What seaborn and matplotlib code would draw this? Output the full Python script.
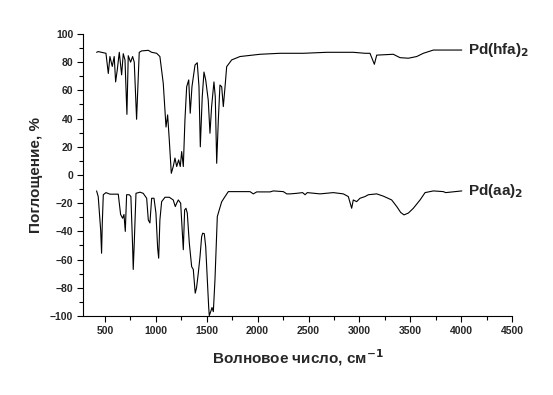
import pandas as pd
import numpy as np
import matplotlib
matplotlib.use('Agg')
import matplotlib.pyplot as plt
import seaborn as sns
from matplotlib.ticker import MultipleLocator

# ИК-спектры: Pd(hfa)2 (верхний) и Pd(aa)2 (нижний)
hfa_x = [418, 434, 510, 533, 549, 572, 591, 605, 621, 641, 664, 680, 697, 716, 729,
         752, 772, 788, 811, 837, 861, 926, 959, 1008, 1040, 1073, 1100, 1116, 1132,
         1152, 1171, 1188, 1205, 1224, 1240, 1254, 1270, 1286, 1303, 1323, 1338, 1355,
         1385, 1407, 1424, 1437, 1456, 1473, 1490, 1515, 1532, 1548, 1571, 1584, 1598,
         1614, 1630, 1647, 1663, 1680, 1696, 1745, 1827, 2023, 2220, 2449, 2679, 2940,
         3055, 3104, 3147, 3170, 3333, 3399, 3481, 3563, 3628, 3727, 4006]
hfa_y = [87, 87.5, 86.3, 72, 84, 77, 84, 66, 74.5, 87, 71, 86, 81.6, 43, 84.6,
         80, 84, 80, 39.5, 87, 88, 88.4, 87, 86.3, 84, 65, 34, 42.6, 25,
         1.2, 6, 12, 6, 10.7, 6, 16.6, 6, 39, 62.6, 67.4, 43.8, 62.6,
         78, 79.6, 62.6, 20, 55.5, 73, 67.4, 53, 29.6, 48.5, 66, 55.5, 8.3,
         39, 63.8, 62.6, 48.5, 62.6, 76.8, 81.6, 84, 85.6, 86.3, 86.3, 87, 87,
         86.3, 86.3, 78.5, 85, 85.6, 83.2, 82.8, 84, 86.3, 88.6, 88.6]

aa_x = [418, 434, 458, 467, 474, 484, 510, 549, 631, 654, 674, 687, 700, 713, 739,
        755, 772, 778, 788, 805, 844, 876, 910, 926, 942, 959, 982, 1001, 1018, 1028,
        1040, 1057, 1090, 1132, 1171, 1191, 1205, 1221, 1244, 1257, 1270, 1283, 1296,
        1309, 1329, 1352, 1368, 1387, 1400, 1417, 1434, 1450, 1460, 1476, 1490, 1506,
        1519, 1525, 1539, 1552, 1565, 1581, 1604, 1623, 1647, 1669, 1712, 1794, 1925,
        1958, 1991, 2122, 2155, 2253, 2286, 2320, 2384, 2442, 2466, 2488, 2613, 2744,
        2842, 2891, 2924, 2940, 2973, 3006, 3055, 3088, 3170, 3235, 3317, 3367, 3406,
        3438, 3481, 3530, 3596, 3645, 3727, 3825, 3848, 4006]
aa_y = [-11.3, -15.3, -39, -55.5, -34, -14, -12.5, -13.6, -13.6, -28, -30.7, -28, -40, -14, -14,
        -15.3, -50.8, -67, -48.4, -13, -12.2, -13, -16.5, -31.9, -34, -16.5, -16.5, -27, -52, -59,
        -31.9, -18.9, -15.8, -15.8, -17.7, -22.4, -20, -17.7, -20, -36.6, -53, -24.8, -23.6,
        -27, -48.4, -65, -67, -83.8, -80, -69.7, -58, -43.8, -41.3, -41.6, -50.8, -74.4,
        -93.3, -99.7, -96.9, -94, -96.9, -74.4, -29.5, -24.8, -19, -16.5, -11.8, -11.8, -11.8,
        -13.4, -12, -12, -11.3, -11.8, -13.4, -13.4, -13, -12.5, -14, -12.5, -13.4, -12.5,
        -13.4, -15.3, -23.6, -17.7, -18.9, -16.5, -15.3, -14, -13.4, -15, -17.7, -22.4, -26.6,
        -28.3, -27, -23.6, -17.7, -12.5, -11.3, -11.8, -12.5, -11.3]

x_ticks = [500, 1000, 1500, 2000, 2500, 3000, 3500, 4000, 4500]
y_ticks = [-100, -80, -60, -40, -20, 0, 20, 40, 60, 80, 100]

df = pd.concat([
    pd.DataFrame({'x': hfa_x, 'y': hfa_y, 's': 'hfa'}),
    pd.DataFrame({'x': aa_x, 'y': aa_y, 's': 'aa'}),
])

sns.set_style('ticks')
plt.rcParams['font.family'] = ['Liberation Sans Narrow', 'Liberation Sans', 'DejaVu Sans']
plt.rcParams['font.weight'] = 'bold'

fig = plt.figure(figsize=(5.53, 3.95), dpi=100)
ax = fig.add_axes([0.150, 0.200, 0.776, 0.714])
sns.lineplot(data=df, x='x', y='y', units='s', estimator=None, sort=False,
             color='black', lw=0.8, ax=ax)

ax.set_xlim(284, 4500)
ax.set_ylim(-100, 100)
ax.set_xticks(x_ticks)
ax.set_yticks(y_ticks)
ax.xaxis.set_minor_locator(MultipleLocator(250))
ax.yaxis.set_minor_locator(MultipleLocator(10))
ax.tick_params(which='both', direction='out', width=0.8, color='black', labelsize=7.5, pad=3)
ax.tick_params(which='major', length=4)
ax.tick_params(which='minor', length=3)
for lab in ax.get_xticklabels() + ax.get_yticklabels():
    lab.set_fontweight('bold')
for sp in ['left', 'bottom']:
    ax.spines[sp].set_color('black')
    ax.spines[sp].set_linewidth(0.8)
sns.despine(ax=ax)

ax.set_xlabel('Волновое число, см$^{-1}$', fontsize=11, fontweight='bold', labelpad=8)
ax.set_ylabel('Поглощение, %', fontsize=11, fontweight='bold', labelpad=5)

ax.text(4070, 88.6, 'Pd(hfa)$_2$', fontsize=11, fontweight='bold', va='center', ha='left')
ax.text(4070, -11.3, 'Pd(aa)$_2$', fontsize=11, fontweight='bold', va='center', ha='left')

fig.savefig('out.png', dpi=100)
